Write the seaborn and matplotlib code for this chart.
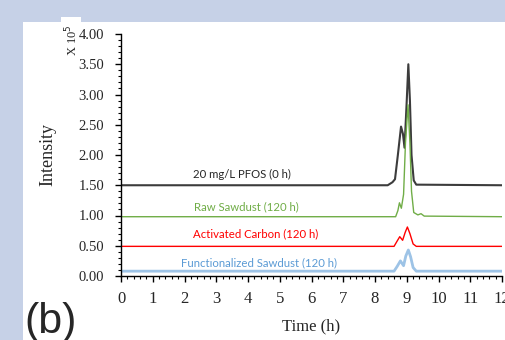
import matplotlib
matplotlib.use("Agg")
import matplotlib.pyplot as plt
from matplotlib.patches import Rectangle
from matplotlib.ticker import MultipleLocator
import seaborn as sns

# chromatogram traces (intensity in units of 1e5)
t_pfos = [0, 8.40, 8.55, 8.63, 8.72, 8.82, 8.88, 8.93, 9.00, 9.05, 9.10, 9.15, 9.22, 9.30, 12]
i_pfos = [1.50, 1.50, 1.55, 1.60, 2.00, 2.47, 2.35, 2.12, 2.90, 3.50, 2.90, 2.00, 1.58, 1.51, 1.50]

t_raw = [0, 8.65, 8.72, 8.77, 8.83, 8.90, 8.96, 9.04, 9.10, 9.15, 9.22, 9.35, 9.45, 9.55, 12]
i_raw = [0.98, 0.98, 1.08, 1.21, 1.12, 1.35, 2.20, 2.83, 2.20, 1.40, 1.05, 1.01, 1.03, 0.99, 0.98]

t_ac = [0, 8.60, 8.70, 8.78, 8.87, 8.95, 9.02, 9.10, 9.20, 9.30, 12]
i_ac = [0.49, 0.49, 0.58, 0.65, 0.59, 0.72, 0.81, 0.70, 0.53, 0.49, 0.49]

t_fs = [0, 8.60, 8.70, 8.80, 8.90, 8.97, 9.05, 9.12, 9.20, 9.30, 12]
i_fs = [0.08, 0.08, 0.16, 0.25, 0.17, 0.33, 0.43, 0.32, 0.14, 0.08, 0.08]

labels = ["20 mg/L PFOS (0 h)", "Raw Sawdust (120 h)",
          "Activated Carbon (120 h)", "Functionalized Sawdust (120 h)"]
label_x = [2.27, 2.30, 2.28, 1.88]
label_y = [1.68, 1.145, 0.694, 0.226]

line_colors = ["#3c3c3c", "#70ad47", "#ff0000", "#9dc3e6"]
text_colors = ["#262626", "#70ad47", "#ff0000", "#5b9bd5"]
widths = [1.5, 1.0, 1.0, 2.0]

sns.set_style("ticks")
plt.rcParams["font.family"] = ["Liberation Serif", "DejaVu Serif"]

fig = plt.figure(figsize=(5.05, 3.4), dpi=100, facecolor="#c6d1e7")
# white panel + little tab at the top
fig.patches.append(Rectangle((23 / 505, 0), 1 - 23 / 505, 318 / 340,
                             transform=fig.transFigure, facecolor="white",
                             edgecolor="none", zorder=-5))
fig.patches.append(Rectangle((61 / 505, 318 / 340), 20 / 505, 5 / 340,
                             transform=fig.transFigure, facecolor="white",
                             edgecolor="none", zorder=-5))

ax = fig.add_axes([121 / 505, 64 / 340, 381 / 505, 242 / 340])
ax.set_facecolor("none")

series = [(t_pfos, i_pfos), (t_raw, i_raw), (t_ac, i_ac), (t_fs, i_fs)]
for (t, y), c, lw in zip(series, line_colors, widths):
    sns.lineplot(x=t, y=y, color=c, linewidth=lw, ax=ax, sort=False)

for txt, x, y, c in zip(labels, label_x, label_y, text_colors):
    ax.text(x, y, txt, color=c, fontsize=8.2, family=["Lato", "DejaVu Sans"],
            ha="left", va="center")

ax.set_xlim(0, 12)
ax.set_ylim(0, 4.0)
ax.xaxis.set_major_locator(MultipleLocator(1))
ax.xaxis.set_minor_locator(MultipleLocator(0.2))
ax.yaxis.set_major_locator(MultipleLocator(0.5))
ax.yaxis.set_minor_locator(MultipleLocator(0.1))
ax.yaxis.set_major_formatter(matplotlib.ticker.FormatStrFormatter("%.2f"))

sns.despine(ax=ax)
for s in ["left", "bottom"]:
    ax.spines[s].set_color("black")
    ax.spines[s].set_linewidth(1.0)
ax.tick_params(which="major", length=4, width=1, color="black")
ax.tick_params(which="minor", length=2.5, width=0.8, color="black")
ax.tick_params(axis="x", labelsize=12, pad=7)
ax.tick_params(axis="y", labelsize=10.5, pad=8)

ax.set_xlabel("Time (h)", fontsize=12, labelpad=8)
ax.set_ylabel("Intensity", fontsize=13, labelpad=16)

fig.text(72 / 505, 0.882, "X 10$^5$", rotation=90, fontsize=9,
         ha="center", va="center")
fig.text(24 / 505, 38 / 340, "(b)", fontsize=31, family=["Liberation Sans"],
         ha="left", va="top")

fig.savefig("out.png", dpi=100, facecolor=fig.get_facecolor())
